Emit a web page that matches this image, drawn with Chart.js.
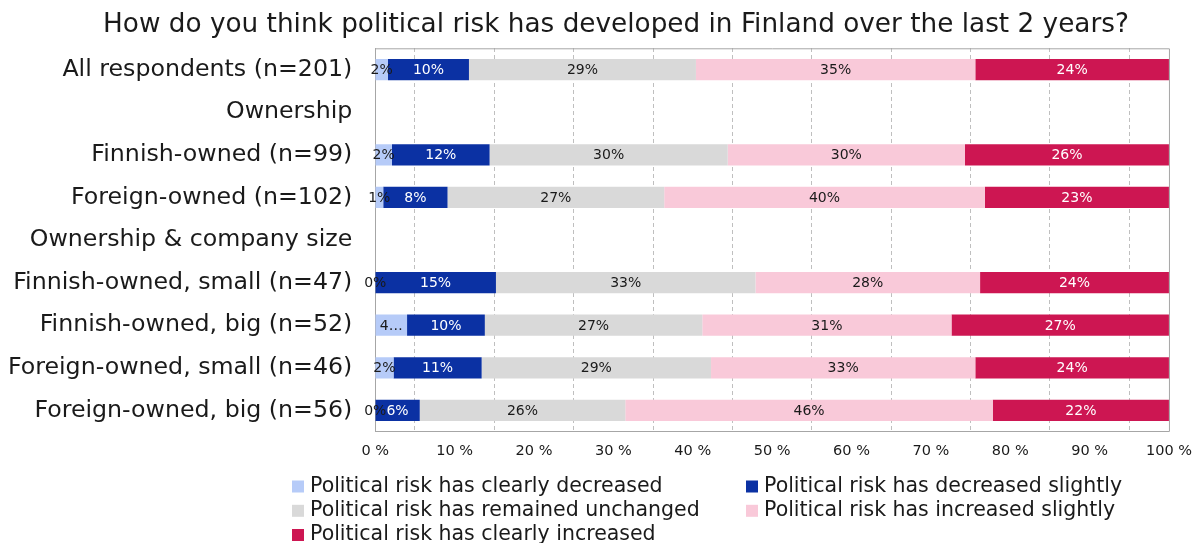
<!DOCTYPE html>
<html>
<head>
<meta charset="utf-8">
<script src="https://cdn.jsdelivr.net/npm/chart.js@4.4.1/dist/chart.umd.min.js"></script>
<style>
  html, body { margin: 0; padding: 0; background: #ffffff; }
  #wrap { width: 1203px; height: 543px; position: relative; }
</style>
</head>
<body>
<div id="wrap"><canvas id="chart" width="1203" height="543"></canvas></div>
<script>
// Survey rows (group headers carry no values)
const categories = [
  'All respondents (n=201)',
  'Ownership',
  'Finnish-owned (n=99)',
  'Foreign-owned (n=102)',
  'Ownership & company size',
  'Finnish-owned, small (n=47)',
  'Finnish-owned, big (n=52)',
  'Foreign-owned, small (n=46)',
  'Foreign-owned, big (n=56)'
];

// Share of answers per row, percent
const clearlyDecreased  = [1.6, null, 2.1, 1.0, null, 0.0, 4.0, 2.3, 0.0];
const slightlyDecreased = [10.2, null, 12.3, 8.1, null, 15.2, 9.8, 11.1, 5.6];
const unchanged         = [28.6, null, 30.0, 27.3, null, 32.7, 27.4, 28.9, 25.9];
const slightlyIncreased = [35.2, null, 29.9, 40.4, null, 28.3, 31.4, 33.3, 46.3];
const clearlyIncreased  = [24.4, null, 25.7, 23.2, null, 23.8, 27.4, 24.4, 22.2];

const seriesNames = [
  'Political risk has clearly decreased',
  'Political risk has decreased slightly',
  'Political risk has remained unchanged',
  'Political risk has increased slightly',
  'Political risk has clearly increased'
];

const xTicks = [0, 10, 20, 30, 40, 50, 60, 70, 80, 90, 100];
const gridMarks = [5, 15, 25, 35, 45, 55, 65, 75, 85, 95];

const chartTitle = 'How do you think political risk has developed in Finland over the last 2 years?';

const FONT = "'DejaVu Sans', 'Open Sans', sans-serif";
const TEXT = '#1a1a1a';

const seriesColors = ['#b6cbf8', '#0b31a3', '#d9d9d9', '#f9c9d9', '#cd1652'];
const labelColors  = [TEXT, '#ffffff', TEXT, TEXT, '#ffffff'];
const seriesData = [clearlyDecreased, slightlyDecreased, unchanged, slightlyIncreased, clearlyIncreased];

// Centered value labels on each segment; a label too wide for a
// reasonably sized segment is shortened with an ellipsis
const segmentLabels = {
  id: 'segmentLabels',
  afterDatasetsDraw(chart) {
    const ctx = chart.ctx;
    ctx.save();
    ctx.font = "14px " + FONT;
    ctx.textAlign = 'center';
    ctx.textBaseline = 'middle';
    chart.data.datasets.forEach((ds, di) => {
      const meta = chart.getDatasetMeta(di);
      meta.data.forEach((bar, i) => {
        const v = ds.data[i];
        if (v === null || v === undefined) return;
        let text = Math.round(v) + '%';
        const w = Math.abs(bar.x - bar.base);
        if (w > 20 && ctx.measureText(text).width > w - 12) {
          text = text.slice(0, 1) + '\u2026';
        }
        ctx.fillStyle = ds.labelColor;
        ctx.fillText(text, (bar.x + bar.base) / 2, bar.y + 1);
      });
    });
    ctx.restore();
  }
};

// Frame around the plot area
const plotFrame = {
  id: 'plotFrame',
  afterDraw(chart) {
    const { ctx, chartArea: a } = chart;
    ctx.save();
    ctx.strokeStyle = '#a6a6a6';
    ctx.lineWidth = 1;
    ctx.beginPath();
    ctx.moveTo(a.left, a.top + 0.5);
    ctx.lineTo(a.right + 0.5, a.top + 0.5);
    ctx.lineTo(a.right + 0.5, a.bottom);
    ctx.stroke();
    ctx.restore();
  }
};

// Title and two-column legend
const titleAndLegend = {
  id: 'titleAndLegend',
  afterDraw(chart) {
    const ctx = chart.ctx;
    ctx.save();
    ctx.fillStyle = TEXT;
    ctx.font = "26.3px " + FONT;
    ctx.textAlign = 'center';
    ctx.textBaseline = 'middle';
    ctx.fillText(chartTitle, 616, 25);

    const cols = [292, 746];
    const rows = [486.5, 510.8, 535];
    ctx.font = "20.5px " + FONT;
    ctx.textAlign = 'left';
    chart.data.datasets.forEach((ds, i) => {
      const x = cols[i % 2];
      const y = rows[Math.floor(i / 2)];
      ctx.fillStyle = ds.backgroundColor;
      ctx.fillRect(x, y - 6, 12, 12);
      ctx.fillStyle = TEXT;
      ctx.fillText(ds.label, x + 18, y);
    });
    ctx.restore();
  }
};

const datasets = seriesData.map((d, i) => ({
  label: seriesNames[i],
  data: d,
  backgroundColor: seriesColors[i],
  labelColor: labelColors[i],
  borderWidth: 0,
  categoryPercentage: 1.0,
  barPercentage: 0.5,
  xAxisID: 'x',
  yAxisID: 'y'
}));

new Chart(document.getElementById('chart'), {
  type: 'bar',
  data: { labels: categories, datasets },
  options: {
    indexAxis: 'y',
    responsive: false,
    animation: false,
    devicePixelRatio: 1,
    layout: { padding: { left: 0, right: 30.3, top: 48.3, bottom: 71.3 } },
    plugins: {
      legend: { display: false },
      title: { display: false },
      tooltip: { enabled: false }
    },
    scales: {
      x: {
        type: 'linear',
        stacked: true,
        min: 0,
        max: 100,
        position: 'bottom',
        afterBuildTicks: s => { s.ticks = xTicks.map(v => ({ value: v })); },
        afterFit: s => { s.height = 40; },
        ticks: {
          callback: v => v + ' %',
          font: { family: FONT, size: 14.5 },
          color: TEXT,
          padding: 11,
          maxRotation: 0,
          autoSkip: false
        },
        grid: { display: false, drawTicks: false },
        border: { display: true, color: '#a6a6a6', width: 1 }
      },
      gx: {
        type: 'linear',
        min: 0,
        max: 100,
        position: 'top',
        afterBuildTicks: s => { s.ticks = gridMarks.map(v => ({ value: v })); },
        afterFit: s => { s.height = 0; },
        ticks: { display: false },
        grid: { drawTicks: false, color: '#bfbfbf', lineWidth: 1, borderDash: [4, 3] },
        border: { display: false, dash: [4, 3] }
      },
      y: {
        stacked: true,
        afterFit: s => { s.width = 375.3; },
        ticks: {
          font: { family: FONT, size: 23.7 },
          color: TEXT,
          padding: 23
        },
        grid: { display: false, drawTicks: false },
        border: { display: true, color: '#a6a6a6', width: 1 }
      }
    }
  },
  plugins: [segmentLabels, plotFrame, titleAndLegend]
});
</script>
</body>
</html>
